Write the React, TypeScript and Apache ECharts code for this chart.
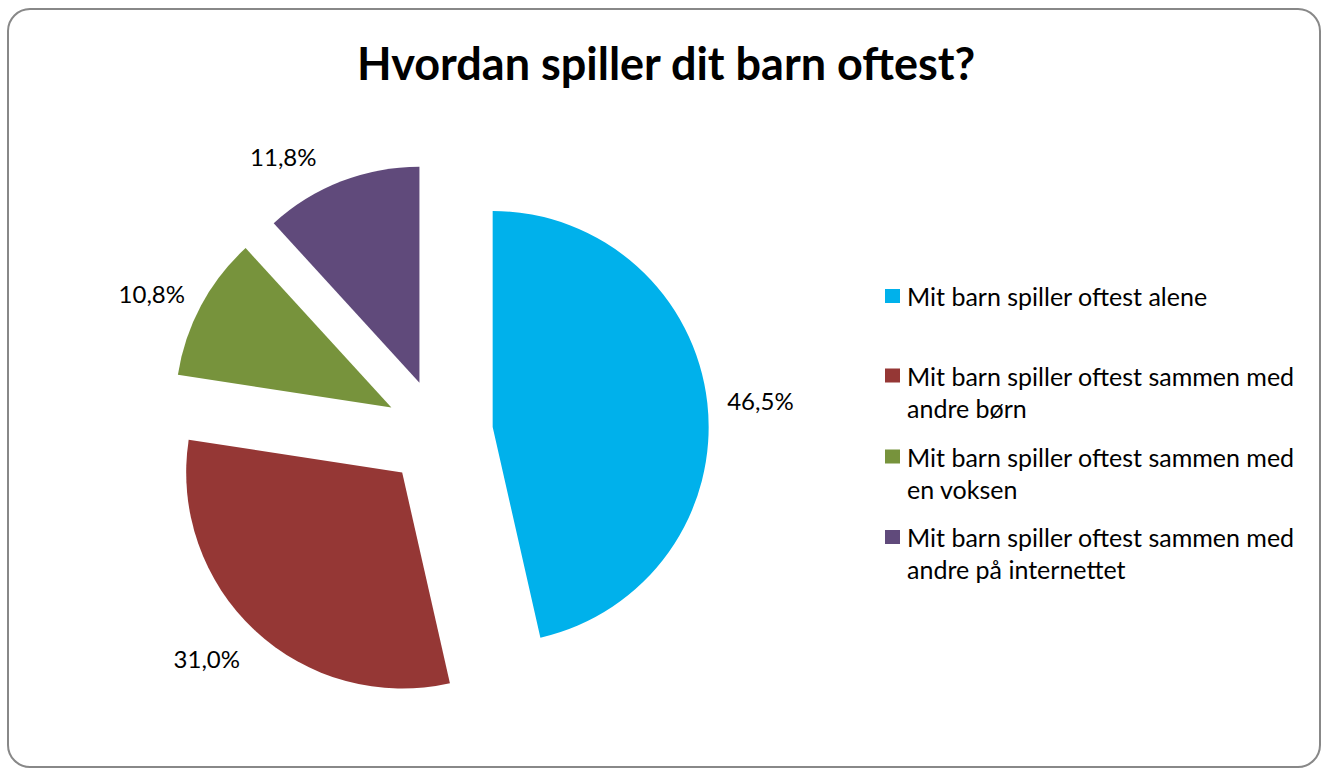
import React, { useEffect, useRef } from "react";
import * as echarts from "echarts";

const TITLE = "Hvordan spiller dit barn oftest?";
const categories = [
  "Mit barn spiller oftest alene",
  "Mit barn spiller oftest sammen med andre børn",
  "Mit barn spiller oftest sammen med en voksen",
  "Mit barn spiller oftest sammen med andre på internettet",
];
const values = [46.5, 31.0, 10.8, 11.8];
const colors = ["#00B1EB", "#953735", "#77933C", "#604A7B"];
// per-slice label placement (radial length, horizontal length)
const labelLen = [20, 38, 26, 27];
const labelLen2 = [0, -11, -7, 15];
const legendIconCenters = [296.5, 376, 457, 537.5];

const FONT = "Lato";

export default function App() {
  const ref = useRef<HTMLDivElement>(null);
  useEffect(() => {
    if (!ref.current) return;
    const chart = echarts.init(ref.current, undefined, { renderer: "svg" });
    const fmt = (v: number) => v.toFixed(1).replace(".", ",") + "%";
    const legends = categories.map((name, i) => {
      const twoLine = name.indexOf("sammen med ") >= 0;
      return {
        orient: "vertical",
        left: 885,
        top: legendIconCenters[i] - 16.5,
        padding: 0,
        data: [name],
        // for two-line entries the square sits at the top of a taller icon box,
        // so it lines up with the first text line
        icon: twoLine ? "path://M0 0H15V14H0Z M0 46H15" : "rect",
        itemWidth: 15,
        itemHeight: twoLine ? 46 : 14,
        itemStyle: { borderWidth: 0 },
        selectedMode: false,
        formatter: (n: string) => n.replace("sammen med ", "sammen med\n"),
        textStyle: {
          fontFamily: FONT,
          fontSize: 25,
          lineHeight: 32,
          color: "#000",
          padding: [0, 0, 0, 2],
        },
      };
    });
    chart.setOption({
      animation: false,
      backgroundColor: "#fff",
      title: {
        text: TITLE,
        left: 352,
        top: 35,
        textStyle: { fontFamily: FONT, fontWeight: "bold", fontSize: 45, color: "#000" },
      },
      legend: legends,
      graphic: [
        {
          type: "rect",
          shape: { x: 8, y: 9, width: 1312, height: 758, r: 22 },
          style: { fill: "none", stroke: "#888888", lineWidth: 2 },
          silent: true,
        },
      ],
      series: [
        {
          type: "pie",
          center: [439, 433],
          radius: 216,
          startAngle: 90,
          clockwise: true,
          selectedMode: "multiple",
          selectedOffset: 54,
          itemStyle: { borderWidth: 0 },
          emphasis: { disabled: true },
          label: {
            show: true,
            position: "outside",
            fontFamily: FONT,
            fontSize: 24,
            color: "#000",
            distanceToLabelLine: 0,
            formatter: (p: any) => fmt(p.value),
          },
          labelLine: { show: false },
          data: categories.map((name, i) => ({
            name,
            value: values[i],
            selected: true,
            itemStyle: { color: colors[i] },
            labelLine: { show: false, length: labelLen[i], length2: labelLen2[i] },
          })),
        },
      ],
    });
    return () => chart.dispose();
  }, []);
  return (
    <div
      ref={ref}
      style={{ position: "absolute", left: 0, top: 0, width: 1322, height: 768 }}
    />
  );
}
